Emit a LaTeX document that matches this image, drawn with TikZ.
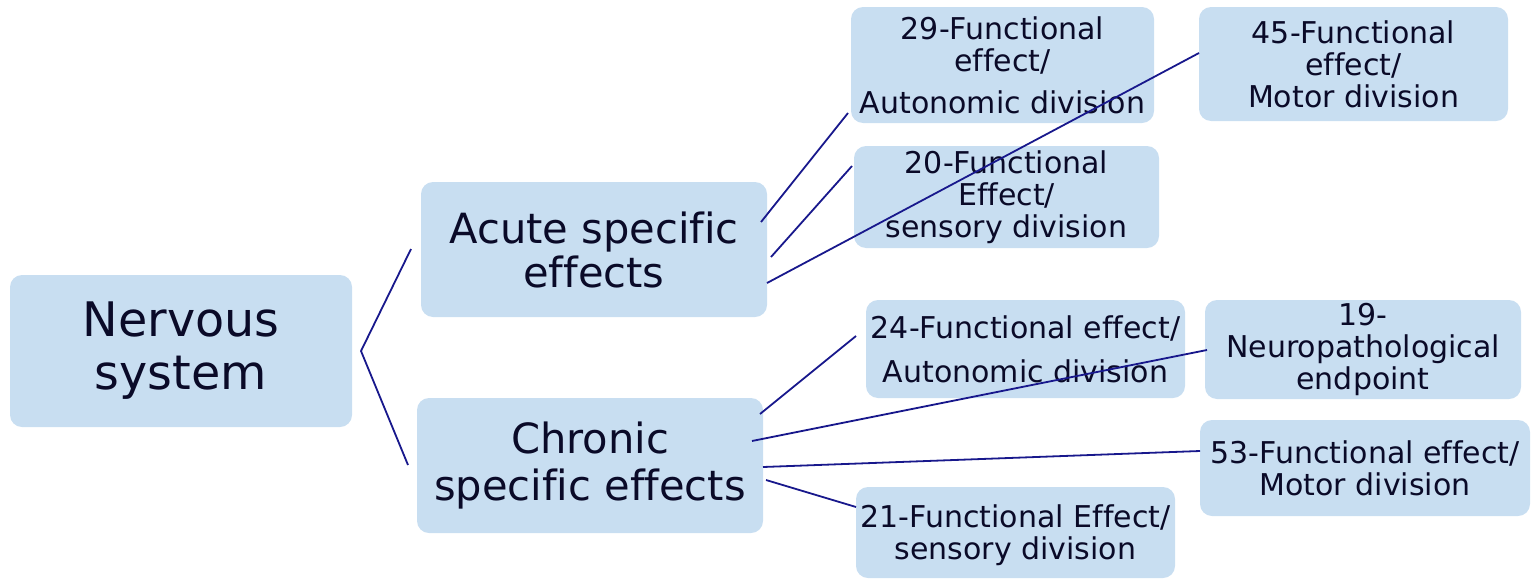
\documentclass[tikz,border=0pt]{standalone}
\usepackage{fontspec}
\setmainfont[Ligatures=CommonOff]{DejaVu Sans}
\usetikzlibrary{calc}
\definecolor{boxfill}{RGB}{200,222,241}
\definecolor{linecol}{RGB}{24,24,140}
\definecolor{txtcol}{RGB}{10,10,40}
\lineskiplimit=-20pt
\begin{document}
\begin{tikzpicture}[x=0.5pt,y=-0.5pt,
  box/.style={fill=boxfill,rounded corners=6pt,align=center,text=txtcol,inner sep=0pt},
  smallbox/.style={box,font=\fontsize{15}{16}\selectfont},
  midbox/.style={box,font=\fontsize{20.8}{22}\selectfont},
  bigbox/.style={box,font=\fontsize{23.8}{26.5}\selectfont},
  conn/.style={draw=linecol,line width=0.9pt}]
\useasboundingbox (0,0) rectangle (1534,578);
% nodes
\node[bigbox,minimum width=171pt,minimum height=76pt] (ns) at (181,351) {Nervous\\system};
\node[midbox,minimum width=173pt,minimum height=67.5pt] (acute) at (594,249.5) {Acute specific\\effects};
\node[midbox,minimum width=173pt,minimum height=67.5pt,font=\fontsize{20.8}{23.5}\selectfont] (chronic) at (590,465.5) {Chronic\\specific effects};
\node[smallbox,minimum width=151.5pt,minimum height=58pt] (n29) at (1002.5,65) {29-Functional\\effect/\\[5pt]Autonomic division};
\node[smallbox,minimum width=154.5pt,minimum height=57pt] (n45) at (1353.5,64) {45-Functional\\effect/\\Motor division};
\node[smallbox,minimum width=152.5pt,minimum height=51pt] (n20) at (1006.5,197) {20-Functional\\Effect/\\sensory division};
\node[smallbox,minimum width=159.5pt,minimum height=49pt] (n24) at (1025.5,349) {24-Functional effect/\\[6pt]Autonomic division};
\node[smallbox,minimum width=158pt,minimum height=49.5pt] (n19) at (1363,349.5) {19-\\Neuropathological\\endpoint};
\node[smallbox,minimum width=165pt,minimum height=48pt] (n53) at (1365,468) {53-Functional effect/\\Motor division};
\node[smallbox,minimum width=159.5pt,minimum height=45.5pt] (n21) at (1015.5,532.5) {\rule{0pt}{14.4pt}21-Functional Effect/\\sensory division};
% connector end points
\coordinate (r0) at (361,351);
\coordinate (ra) at (411,249);
\coordinate (rc) at (408,465);
\coordinate (a1) at (761,222);
\coordinate (a2) at (771,257);
\coordinate (a3) at (767,283);
\coordinate (c1) at (760,414);
\coordinate (c2) at (752,441);
\coordinate (c3) at (763,467);
\coordinate (c4) at (766,480);
\coordinate (e29) at (848,113);
\coordinate (e20) at (852,166);
\coordinate (e45) at (1199,53);
\coordinate (e24) at (856,336);
\coordinate (e19) at (1207,350);
\coordinate (e53) at (1200,451);
\coordinate (e21) at (856,507);
% connectors
\draw[conn] (ra) -- (r0) -- (rc);
\draw[conn] (a1) -- (e29);
\draw[conn] (a2) -- (e20);
\draw[conn] (a3) -- (e45);
\draw[conn] (c1) -- (e24);
\draw[conn] (c2) -- (e19);
\draw[conn] (c3) -- (e53);
\draw[conn] (c4) -- (e21);
\end{tikzpicture}
\end{document}
